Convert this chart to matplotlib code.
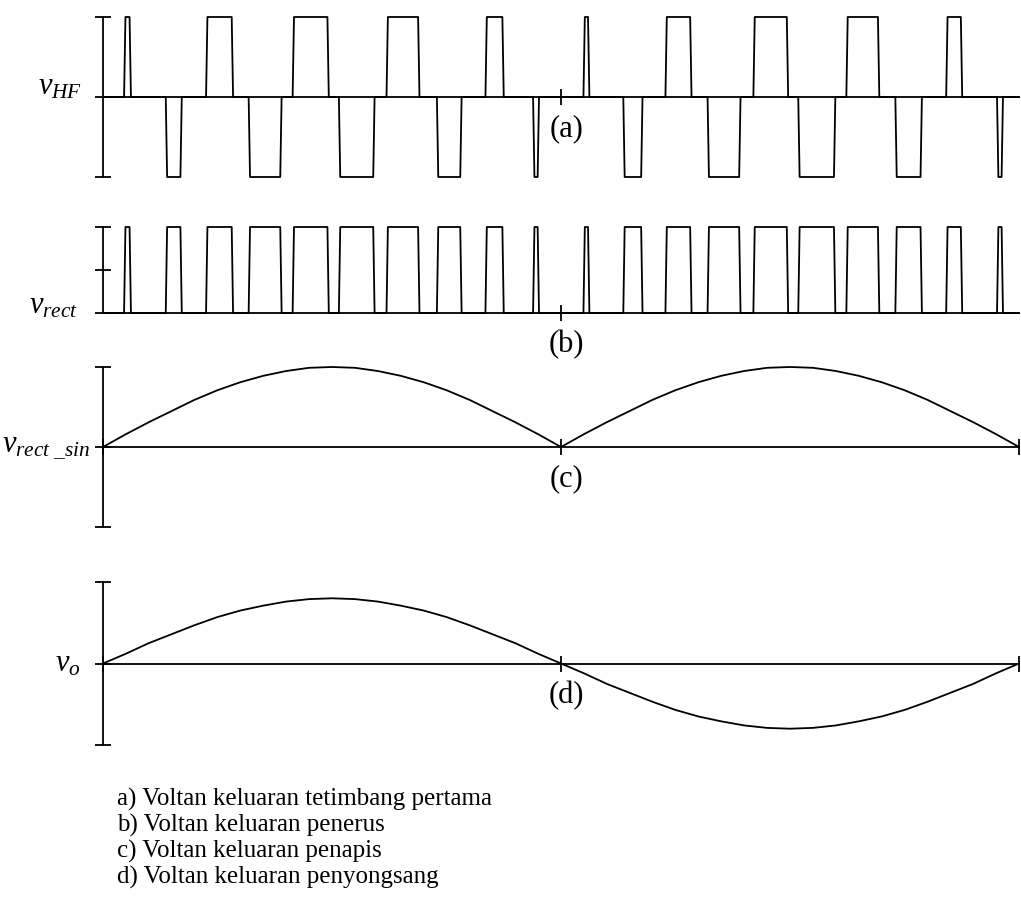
import matplotlib.pyplot as plt

plt.rcParams['font.family'] = 'Liberation Serif'
plt.rcParams['mathtext.fontset'] = 'custom'
plt.rcParams['mathtext.rm'] = 'Liberation Serif'
plt.rcParams['mathtext.it'] = 'Liberation Serif:italic'

# time axis in ms (one 50 Hz cycle)
t_end = 20.0

# v_HF pulses, (start, end) in ms
pos_pulses = [(0.46, 0.61), (2.25, 2.84), (4.14, 4.93), (6.19, 6.91), (8.35, 8.75),
              (10.49, 10.62), (12.28, 12.85), (14.20, 14.96), (16.23, 16.95), (18.41, 18.76)]
neg_pulses = [(1.37, 1.72), (3.18, 3.90), (5.15, 5.93), (7.29, 7.83), (9.39, 9.52),
              (11.36, 11.78), (13.20, 13.92), (15.18, 15.99), (17.30, 17.88), (19.52, 19.65)]

# filtered / output waveforms sampled every 0.5 ms
t_samp = [0, 0.5, 1, 1.5, 2, 2.5, 3, 3.5, 4, 4.5, 5, 5.5, 6, 6.5, 7, 7.5, 8, 8.5, 9, 9.5,
          10, 10.5, 11, 11.5, 12, 12.5, 13, 13.5, 14, 14.5, 15, 15.5, 16, 16.5, 17, 17.5,
          18, 18.5, 19, 19.5, 20]
v_rect_sin = [0, 0.16, 0.31, 0.45, 0.59, 0.71, 0.81, 0.89, 0.95, 0.99, 1.0,
              0.99, 0.95, 0.89, 0.81, 0.71, 0.59, 0.45, 0.31, 0.16, 0,
              0.16, 0.31, 0.45, 0.59, 0.71, 0.81, 0.89, 0.95, 0.99, 1.0,
              0.99, 0.95, 0.89, 0.81, 0.71, 0.59, 0.45, 0.31, 0.16, 0]
v_o = [0, 0.12, 0.25, 0.36, 0.47, 0.57, 0.65, 0.71, 0.76, 0.79, 0.80,
       0.79, 0.76, 0.71, 0.65, 0.57, 0.47, 0.36, 0.25, 0.12, 0,
       -0.12, -0.25, -0.36, -0.47, -0.57, -0.65, -0.71, -0.76, -0.79, -0.80,
       -0.79, -0.76, -0.71, -0.65, -0.57, -0.47, -0.36, -0.25, -0.12, 0]

panel_tags = ['(a)', '(b)', '(c)', '(d)']
captions = ['a) Voltan keluaran tetimbang pertama',
            'b) Voltan keluaran penerus',
            'c) Voltan keluaran penapis',
            'd) Voltan keluaran penyongsang']

LW = 1.3
RAMP = 0.03


def pulse_trace(pulses):
    # pulses: list of (start, end, level)
    xs, ys = [0.0], [0.0]
    for s, e, h in sorted(pulses):
        xs += [s, s + RAMP, e - RAMP, e]
        ys += [0, h, h, 0]
    xs.append(t_end)
    ys.append(0)
    return xs, ys


hf = [(s, e, 1) for s, e in pos_pulses] + [(s, e, -1) for s, e in neg_pulses]
rect = [(s, e, 1) for s, e, _ in hf]

fig = plt.figure(figsize=(10.21, 9.01), dpi=100)
W, H = 1021, 901
x0, x1 = 103, 1019


def make_ax(top, bottom):
    ax = fig.add_axes([x0 / W, 1 - bottom / H, (x1 - x0) / W, (bottom - top) / H])
    ax.set_xlim(0, t_end)
    ax.spines['top'].set_visible(False)
    ax.spines['right'].set_visible(False)
    ax.spines['bottom'].set_position(('data', 0))
    for sp in ax.spines.values():
        sp.set_linewidth(LW)
    ax.tick_params(direction='inout', length=11, width=LW, labelleft=False, labelbottom=False)
    ax.patch.set_visible(False)
    return ax


ax_a = make_ax(17, 177)
ax_b = make_ax(227, 313)
ax_c = make_ax(367, 527)
ax_d = make_ax(582, 745)

xs, ys = pulse_trace(hf)
ax_a.plot(xs, ys, color='black', lw=LW, clip_on=False)
ax_a.set_ylim(-1, 1)
ax_a.set_yticks([-1, 0, 1])
ax_a.set_xticks([10])

xs, ys = pulse_trace(rect)
ax_b.plot(xs, ys, color='black', lw=LW, clip_on=False)
ax_b.set_ylim(0, 1)
ax_b.set_yticks([0, 0.5, 1])
ax_b.set_xticks([10])

ax_c.plot(t_samp, v_rect_sin, color='black', lw=LW, clip_on=False)
ax_c.set_ylim(-1, 1)
ax_c.set_yticks([-1, 0, 1])
ax_c.set_xticks([0, 10, 20])

ax_d.plot(t_samp, v_o, color='black', lw=LW, clip_on=False)
ax_d.set_ylim(-1, 1)
ax_d.set_yticks([-1, 0, 1])
ax_d.set_xticks([0, 10, 20])

# signal names left of the zero line
names = [r'$v_{HF}$', r'$v_{rect}$', r'$v_{rect\ \_sin}$', r'$v_{o}$']
offsets = [(-15, 2), (-18, 0), (-9, -3), (-16, -6)]
for ax, name, off in zip([ax_a, ax_b, ax_c, ax_d], names, offsets):
    ax.annotate(name, xy=(0, 0), xycoords='data', xytext=off, textcoords='offset points',
                ha='right', va='baseline', fontsize=22)

for ax, tag in zip([ax_a, ax_b, ax_c, ax_d], panel_tags):
    ax.annotate(tag, xy=(10, 0), xycoords='data', xytext=(4, -23), textcoords='offset points',
                ha='center', va='center', fontsize=22)

for i, cap in enumerate(captions):
    fig.text(117 / W, 1 - (806 + i * 25.8) / H, cap, fontsize=18, ha='left', va='baseline')

fig.savefig('out.png', dpi=100)
